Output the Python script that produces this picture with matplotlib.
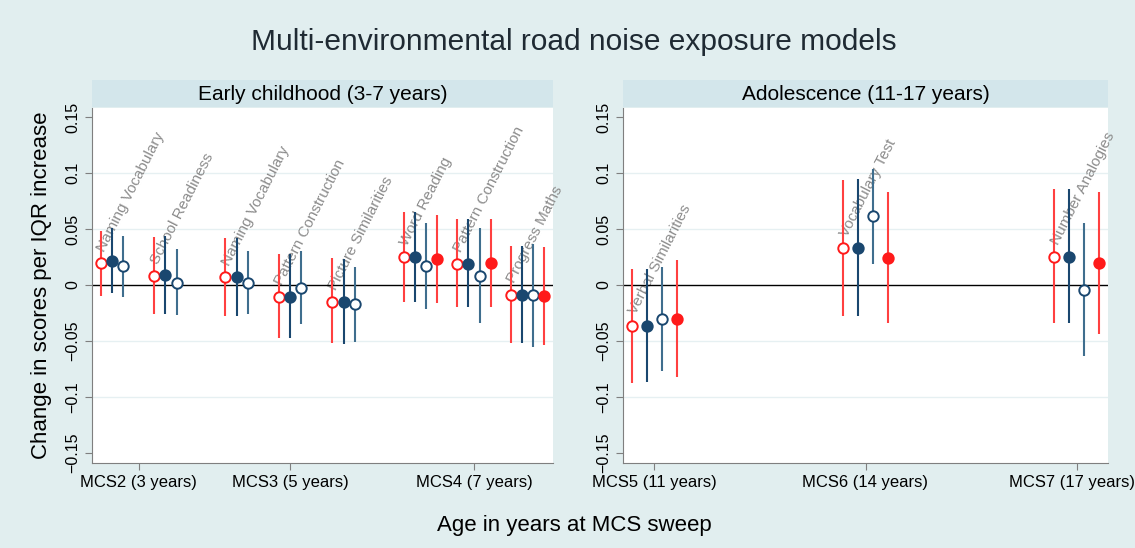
import numpy as np
import matplotlib.pyplot as plt
from matplotlib.transforms import ScaledTranslation

plt.rcParams['font.family'] = ['Liberation Sans', 'DejaVu Sans']
nan = np.nan

# Early childhood panel (3-7 years)
early_sweeps = ['MCS2 (3 years)', 'MCS3 (5 years)', 'MCS4 (7 years)']
early_tests = ['Naming Vocabulary', 'School Readiness', 'Naming Vocabulary', 'Pattern Construction',
               'Picture Similarities', 'Word Reading', 'Pattern Construction', 'Progress Maths']
early_sweep_of_test = [0, 0, 1, 1, 1, 2, 2, 2]

# model 1 = red hollow, model 2 = navy solid, model 3 = navy hollow, model 4 = red solid
early_m1 = [0.0196, 0.008, 0.0074, -0.0104, -0.0149, 0.0247, 0.0188, -0.0086]
early_m1_lo = [-0.0095, -0.026, -0.028, -0.047, -0.052, -0.015, -0.020, -0.0515]
early_m1_hi = [0.0485, 0.0426, 0.042, 0.028, 0.024, 0.065, 0.0586, 0.035]
early_m2 = [0.0214, 0.009, 0.0074, -0.0104, -0.015, 0.0253, 0.0188, -0.0086]
early_m2_lo = [-0.0074, -0.026, -0.028, -0.047, -0.053, -0.015, -0.020, -0.0515]
early_m2_hi = [0.0512, 0.044, 0.042, 0.028, 0.023, 0.065, 0.0586, 0.035]
early_m3 = [0.017, 0.002, 0.002, -0.003, -0.017, 0.017, 0.008, -0.0092]
early_m3_lo = [-0.0104, -0.027, -0.026, -0.035, -0.051, -0.0217, -0.034, -0.055]
early_m3_hi = [0.044, 0.032, 0.030, 0.030, 0.016, 0.0557, 0.0506, 0.0366]
early_m4 = [nan, nan, nan, nan, nan, 0.023, 0.0193, -0.010]
early_m4_lo = [nan, nan, nan, nan, nan, -0.0164, -0.020, -0.0536]
early_m4_hi = [nan, nan, nan, nan, nan, 0.0625, 0.059, 0.0336]

# Adolescence panel (11-17 years)
teen_sweeps = ['MCS5 (11 years)', 'MCS6 (14 years)', 'MCS7 (17 years)']
teen_tests = ['Verbal Similarities', 'Vocabulary Test', 'Number Analogies']
teen_sweep_of_test = [0, 1, 2]
teen_m1 = [-0.0366, 0.0327, 0.0253]
teen_m1_lo = [-0.0878, -0.028, -0.0336]
teen_m1_hi = [0.0143, 0.094, 0.0854]
teen_m2 = [-0.0366, 0.0327, 0.0253]
teen_m2_lo = [-0.087, -0.028, -0.0336]
teen_m2_hi = [0.0143, 0.0946, 0.0854]
teen_m3 = [-0.0306, 0.0616, -0.0045]
teen_m3_lo = [-0.0768, 0.019, -0.0634]
teen_m3_hi = [0.0164, 0.1036, 0.0556]
teen_m4 = [-0.0304, 0.0244, 0.0193]
teen_m4_lo = [-0.0824, -0.034, -0.0438]
teen_m4_hi = [0.0223, 0.0833, 0.0833]

ytick_vals = [-0.15, -0.1, -0.05, 0, 0.05, 0.1, 0.15]
ytick_labels = ['\u22120.15', '\u22120.1', '\u22120.05', '0', '0.05', '0.1', '0.15']

bg = '#E1EEEF'
strip_col = '#D3E6EB'
red = '#FF1A1A'
navy = '#1A476F'
steel = '#3F6E8E'
# (line colour, marker face, marker edge)
styles = [('#FF4040', 'white', red),
          (navy, navy, navy),
          (steel, 'white', navy),
          ('#FF4040', red, red)]


def draw_panel(ax, tests, sweep_of_test, sweep_labels, models, gap, offset, xlim):
    sweep_of_test = np.array(sweep_of_test)
    base = np.arange(len(tests)) + gap * sweep_of_test
    xs_by_sweep = {}
    for k, (est, lo, hi) in enumerate(models):
        lc, fc, ec = styles[k]
        x = base + k * offset
        est = np.array(est, dtype=float)
        ax.vlines(x, lo, hi, color=lc, lw=1.5, zorder=3)
        ax.plot(x, est, 'o', ms=7.5, mfc=fc, mec=ec, mew=1.4, zorder=4, ls='none')
        for xi, e, s in zip(x, est, sweep_of_test):
            if not np.isnan(e):
                xs_by_sweep.setdefault(s, []).append(xi)
    for i, t in enumerate(tests):
        ax.text(base[i], models[0][0][i] + 0.011, t, rotation=63, rotation_mode='anchor',
                ha='left', va='center', color='#8C8C8C', fontsize=11, zorder=2)
    ticks = [(min(xs_by_sweep[s]) + max(xs_by_sweep[s])) / 2 for s in range(len(sweep_labels))]
    ax.set_xticks(ticks)
    ax.set_xticklabels(sweep_labels, fontsize=12)
    ax.set_xlim(*xlim)
    ax.set_ylim(-0.159, 0.158)
    ax.set_yticks(ytick_vals)
    ax.set_yticklabels(ytick_labels, fontsize=11.5, rotation=90, va='center')
    for g in [-0.1, -0.05, 0.05, 0.1]:
        ax.axhline(g, color='#E6F0F2', lw=1, zorder=1)
    ax.axhline(0, color='black', lw=1, zorder=2)
    for s in ['top', 'right']:
        ax.spines[s].set_visible(False)
    for s in ['left', 'bottom']:
        ax.spines[s].set_color('#7F7F7F')
    ax.tick_params(colors='#7F7F7F', labelcolor='black', length=5)


fig = plt.figure(figsize=(11.35, 5.48), dpi=100)
fig.patch.set_facecolor(bg)
W, H = 1135, 548

panels = [
    (92, 553, 'Early childhood (3-7 years)', early_tests, early_sweep_of_test, early_sweeps,
     [(early_m1, early_m1_lo, early_m1_hi), (early_m2, early_m2_lo, early_m2_hi),
      (early_m3, early_m3_lo, early_m3_hi), (early_m4, early_m4_lo, early_m4_hi)],
     0.33, 0.21, (-0.16, 8.45)),
    (623, 1108, 'Adolescence (11-17 years)', teen_tests, teen_sweep_of_test, teen_sweeps,
     [(teen_m1, teen_m1_lo, teen_m1_hi), (teen_m2, teen_m2_lo, teen_m2_hi),
      (teen_m3, teen_m3_lo, teen_m3_hi), (teen_m4, teen_m4_lo, teen_m4_hi)],
     0.0, 0.07, (-0.044, 2.254)),
]

axes = []
for x0, x1, title, tests, sw, labels, models, gap, off, xlim in panels:
    ax = fig.add_axes([x0 / W, 1 - 463 / H, (x1 - x0) / W, (463 - 108) / H])
    ax.set_facecolor('white')
    draw_panel(ax, tests, sw, labels, models, gap, off, xlim)
    axes.append(ax)
    strip = fig.add_axes([x0 / W, 1 - 107 / H, (x1 - x0) / W, 27 / H])
    strip.set_facecolor(strip_col)
    strip.set_xticks([])
    strip.set_yticks([])
    for s in strip.spines.values():
        s.set_visible(False)
    strip.text(0.5, 0.45, title, ha='center', va='center', fontsize=15, transform=strip.transAxes)

# keep the last sweep label inside the figure edge, as in the original
last = axes[1].get_xticklabels()[-1]
last.set_transform(last.get_transform() + ScaledTranslation(-5 / 100, 0, fig.dpi_scale_trans))

fig.text(0.506, 1 - 42 / H, 'Multi-environmental road noise exposure models', ha='center', va='center',
         fontsize=21.5, color='#1F2A33')
fig.text(0.506, 1 - 525 / H, 'Age in years at MCS sweep', ha='center', va='center', fontsize=16)
fig.text(42 / W, 1 - 285 / H, 'Change in scores per IQR increase', rotation=90, ha='center', va='center',
         fontsize=16)

fig.savefig('out.png', dpi=100, facecolor=bg)
